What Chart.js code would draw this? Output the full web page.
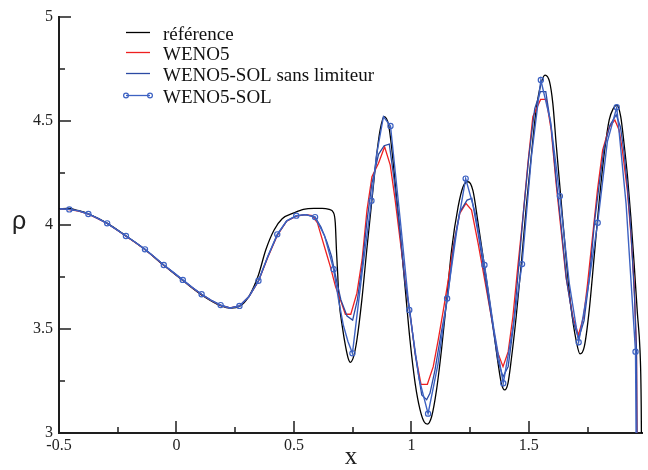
<!DOCTYPE html>
<html><head><meta charset="utf-8">
<script src="https://cdn.jsdelivr.net/npm/chart.js@4.4.1/dist/chart.umd.min.js"></script>
<style>html,body{margin:0;padding:0;background:#fff}#wrap{width:648px;height:470px;position:relative}</style>
</head><body><div id="wrap"><canvas id="c" width="648" height="470"></canvas></div>
<script>
// ---- data ----
const seriesLabels = ['référence', 'WENO5', 'WENO5-SOL sans limiteur', 'WENO5-SOL'];
const xTickLabels = ['-0.5', '0', '0.5', '1', '1.5'];
const yTickLabels = ['3', '3.5', '4', '4.5', '5'];
const xMajorTicks = [-0.5, 0, 0.5, 1, 1.5];
const xMinorTicks = [-0.25, 0.25, 0.75, 1.25, 1.75];
const yMajorTicks = [3, 3.5, 4, 4.5, 5];
const yMinorTicks = [3.25, 3.75, 4.25, 4.75];

const refX = [-0.500,-0.460,-0.420,-0.373,-0.294,-0.213,-0.134,-0.054,0.027,0.107,0.188,0.232,0.268,0.310,0.349,0.380,0.415,0.450,0.500,0.540,0.585,0.620,0.650,0.668,0.676,0.681,0.686,0.692,0.706,0.720,0.731,0.740,0.754,0.768,0.789,0.810,0.832,0.853,0.867,0.883,0.903,0.917,0.931,0.952,0.973,0.994,1.016,1.037,1.054,1.068,1.086,1.107,1.128,1.150,1.171,1.199,1.220,1.241,1.262,1.284,1.305,1.326,1.348,1.369,1.383,1.397,1.411,1.425,1.446,1.468,1.489,1.510,1.531,1.552,1.569,1.588,1.602,1.616,1.637,1.658,1.679,1.701,1.718,1.736,1.757,1.778,1.800,1.821,1.842,1.860,1.874,1.891,1.905,1.920,1.934,1.948,1.962,1.973,1.977,1.979,1.982];
const refY = [4.078,4.080,4.070,4.053,4.008,3.946,3.882,3.806,3.733,3.664,3.612,3.600,3.608,3.660,3.760,3.880,3.975,4.030,4.058,4.075,4.080,4.080,4.075,4.060,4.010,3.880,3.770,3.640,3.511,3.415,3.359,3.340,3.367,3.447,3.639,3.880,4.120,4.345,4.457,4.521,4.481,4.361,4.200,3.960,3.704,3.447,3.239,3.111,3.054,3.043,3.078,3.207,3.399,3.639,3.880,4.088,4.184,4.208,4.165,4.008,3.848,3.687,3.511,3.335,3.239,3.207,3.239,3.351,3.559,3.816,4.088,4.329,4.553,4.681,4.721,4.689,4.585,4.393,4.120,3.848,3.607,3.447,3.380,3.415,3.591,3.848,4.120,4.345,4.505,4.561,4.577,4.521,4.393,4.233,4.040,3.816,3.575,3.399,3.239,3.014,2.0];

const wenoX = [-0.496,-0.456,-0.416,-0.375,-0.335,-0.295,-0.255,-0.215,-0.174,-0.134,-0.094,-0.054,-0.013,0.027,0.067,0.107,0.148,0.188,0.228,0.268,0.308,0.349,0.389,0.429,0.469,0.510,0.550,0.578,0.600,0.613,0.634,0.655,0.677,0.698,0.719,0.742,0.768,0.790,0.811,0.832,0.860,0.886,0.910,0.931,0.952,0.973,0.994,1.016,1.041,1.068,1.093,1.114,1.136,1.157,1.178,1.206,1.232,1.256,1.284,1.312,1.340,1.366,1.390,1.412,1.432,1.453,1.475,1.496,1.517,1.550,1.574,1.595,1.616,1.637,1.658,1.687,1.711,1.733,1.750,1.771,1.792,1.814,1.842,1.866,1.884,1.898,1.919,1.934,1.948,1.958,1.990];
const wenoY = [4.078,4.074,4.067,4.052,4.031,4.007,3.977,3.946,3.915,3.882,3.845,3.807,3.770,3.734,3.699,3.666,3.637,3.614,3.601,3.611,3.655,3.730,3.845,3.950,4.018,4.043,4.050,4.045,4.010,3.960,3.880,3.800,3.704,3.640,3.571,3.571,3.672,3.832,4.072,4.232,4.297,4.376,4.288,4.120,3.928,3.736,3.575,3.383,3.234,3.234,3.319,3.447,3.591,3.736,3.896,4.056,4.104,4.072,3.912,3.736,3.559,3.391,3.319,3.391,3.559,3.800,4.040,4.297,4.521,4.604,4.604,4.457,4.200,3.976,3.751,3.559,3.471,3.559,3.719,3.944,4.168,4.360,4.470,4.505,4.457,4.360,4.168,3.960,3.720,3.400,-2.0];

const slX = [-0.496,-0.456,-0.416,-0.375,-0.335,-0.295,-0.255,-0.215,-0.174,-0.134,-0.094,-0.054,-0.013,0.027,0.067,0.107,0.148,0.188,0.228,0.268,0.308,0.349,0.389,0.429,0.469,0.510,0.550,0.590,0.615,0.640,0.660,0.680,0.700,0.726,0.750,0.770,0.790,0.811,0.832,0.860,0.884,0.906,0.925,0.952,0.973,0.993,1.016,1.044,1.065,1.079,1.100,1.125,1.154,1.180,1.205,1.237,1.257,1.284,1.312,1.340,1.368,1.390,1.412,1.435,1.456,1.476,1.500,1.525,1.549,1.572,1.595,1.616,1.637,1.660,1.690,1.712,1.735,1.757,1.780,1.800,1.820,1.845,1.872,1.890,1.905,1.920,1.935,1.950,1.958,1.990];
const slY = [4.078,4.075,4.068,4.053,4.032,4.008,3.978,3.947,3.916,3.883,3.846,3.808,3.771,3.735,3.700,3.667,3.638,3.615,3.601,3.611,3.655,3.731,3.848,3.952,4.019,4.044,4.050,4.038,3.990,3.920,3.850,3.740,3.640,3.562,3.543,3.640,3.800,4.020,4.200,4.340,4.381,4.389,4.230,3.960,3.720,3.591,3.380,3.183,3.160,3.191,3.300,3.470,3.647,3.900,4.060,4.120,4.128,3.960,3.760,3.560,3.350,3.270,3.320,3.520,3.790,4.050,4.330,4.560,4.641,4.641,4.470,4.220,4.000,3.740,3.530,3.455,3.540,3.740,4.020,4.200,4.370,4.480,4.530,4.470,4.350,4.180,3.960,3.650,3.400,-2.0];

// WENO5-SOL: marked points and the unmarked points between them
const solX = [-0.456,-0.375,-0.295,-0.215,-0.134,-0.054,0.027,0.107,0.188,0.268,0.349,0.429,0.510,0.590,0.669,0.749,0.830,0.911,0.991,1.071,1.152,1.231,1.311,1.391,1.471,1.551,1.632,1.712,1.793,1.874,1.954];
const solY = [4.075,4.053,4.008,3.947,3.883,3.808,3.736,3.667,3.615,3.611,3.732,3.955,4.045,4.038,3.787,3.383,4.117,4.476,3.591,3.093,3.647,4.223,3.808,3.239,3.812,4.697,4.139,3.436,4.011,4.566,3.391];
const solMidX = [-0.496,-0.416,-0.335,-0.255,-0.174,-0.094,-0.013,0.067,0.148,0.228,0.308,0.389,0.469,0.550,0.630,0.690,0.710,0.730,0.790,0.852,0.881,0.952,1.033,1.113,1.194,1.271,1.351,1.431,1.511,1.592,1.672,1.752,1.834,1.914,1.990];
const solMidY = [4.078,4.068,4.032,3.978,3.916,3.846,3.772,3.700,3.638,3.600,3.655,3.850,4.020,4.050,3.950,3.640,3.520,3.440,3.770,4.340,4.521,4.030,3.260,3.330,3.980,4.060,3.500,3.500,4.330,4.500,3.720,3.700,4.400,4.100,-2.5];

// ---- build ----
const pts = (xs, ys) => xs.map((x, i) => ({x, y: ys[i]}));
const solLine = pts(solX, solY).concat(pts(solMidX, solMidY)).sort((a, b) => a.x - b.x);

const C_REF = '#000000', C_WENO = '#ee2020', C_SL = '#2b4aa3', C_SOL = '#3d62c2';
const AXIS = '#1e1e1e';
const SERIF = '"Liberation Serif", "Times New Roman", serif';

const dsRef = {label: seriesLabels[0], data: pts(refX, refY), borderColor: C_REF, borderWidth: 1.3, pointRadius: 0, cubicInterpolationMode: 'monotone', order: 4};
const dsWeno = {label: seriesLabels[1], data: pts(wenoX, wenoY), borderColor: C_WENO, borderWidth: 1.3, pointRadius: 0, tension: 0, order: 3};
const dsSL = {label: seriesLabels[2], data: pts(slX, slY), borderColor: C_SL, borderWidth: 1.3, pointRadius: 0, tension: 0, order: 2};
const dsSol = {label: seriesLabels[3], data: solLine, borderColor: C_SOL, borderWidth: 1.4, pointRadius: 0, tension: 0, order: 1};
const dsSolMarks = {label: seriesLabels[3] + ' (points)', data: pts(solX, solY), showLine: false, borderColor: C_SOL, backgroundColor: 'rgba(255,255,255,0)', pointRadius: 2.6, pointBorderWidth: 1.2, pointStyle: 'circle', order: 0};

const isMajor = v => Math.abs(v * 2 - Math.round(v * 2)) < 1e-6;

const decor = {
  id: 'decor',
  afterDraw(chart) {
    const ctx = chart.ctx, a = chart.chartArea, x = chart.scales.x, y = chart.scales.y;
    ctx.save();
    // inward tick marks
    ctx.fillStyle = AXIS;
    const xt = (v, len) => { const px = Math.round(x.getPixelForValue(v)); ctx.fillRect(px - 0.75, a.bottom - len, 1.5, len); };
    const yt = (v, len) => { const py = Math.round(y.getPixelForValue(v)); ctx.fillRect(a.left, py - 0.75, len, 1.5); };
    xMajorTicks.forEach(v => xt(v, 12));
    xMinorTicks.forEach(v => xt(v, 6));
    yMajorTicks.forEach(v => yt(v, 12));
    yMinorTicks.forEach(v => yt(v, 6));
    // y axis title (upright rho)
    ctx.fillStyle = '#222';
    ctx.font = '25px "Liberation Sans", Arial, sans-serif';
    ctx.textAlign = 'center'; ctx.textBaseline = 'alphabetic';
    ctx.fillText('ρ', 19, y.getPixelForValue(4) + 4);
    // legend inside the plot
    const items = [dsRef, dsWeno, dsSL, dsSol];
    const rows = [32, 52, 73, 95];
    const x0 = a.left + 67, x1 = a.left + 91, tx = a.left + 104;
    ctx.font = '19px ' + SERIF;
    ctx.textAlign = 'left';
    items.forEach((ds, i) => {
      const yy = rows[i];
      ctx.strokeStyle = ds.borderColor; ctx.lineWidth = 1.3;
      ctx.beginPath(); ctx.moveTo(x0, yy + 0.5); ctx.lineTo(x1, yy + 0.5); ctx.stroke();
      if (ds === dsSol) {
        ctx.lineWidth = 1.2;
        [x0, x1].forEach(cx => { ctx.beginPath(); ctx.arc(cx, yy + 0.5, 2.4, 0, Math.PI * 2); ctx.stroke(); });
      }
      ctx.fillStyle = '#111';
      ctx.fillText(ds.label, tx, yy + 7.5);
    });
    ctx.restore();
  }
};

new Chart(document.getElementById('c'), {
  type: 'line',
  data: {datasets: [dsSolMarks, dsSol, dsSL, dsWeno, dsRef]},
  options: {
    responsive: false, animation: false, parsing: true,
    layout: {padding: {left: 0, right: 1, top: 17, bottom: 0}},
    plugins: {legend: {display: false}, tooltip: {enabled: false}},
    scales: {
      x: {
        type: 'linear', min: -0.5, max: 1.985,
        afterFit: s => { s.height = 37; },
        grid: {display: true, drawOnChartArea: false, drawTicks: false},
        border: {display: true, color: AXIS, width: 2},
        ticks: {
          stepSize: 0.25, includeBounds: false, autoSkip: false, maxRotation: 0, padding: 3,
          color: '#222', font: {family: SERIF, size: 16},
          callback: v => isMajor(v) ? xTickLabels[Math.round((v + 0.5) * 2)] : ''
        },
        title: {display: true, text: 'x', color: '#222', font: {family: SERIF, size: 25, lineHeight: 1}, padding: {top: 0, bottom: 0}}
      },
      y: {
        type: 'linear', min: 3, max: 5,
        afterFit: s => { s.width = 59; },
        grid: {display: true, drawOnChartArea: false, drawTicks: false},
        border: {display: true, color: AXIS, width: 2},
        ticks: {
          stepSize: 0.25, autoSkip: false, padding: 6,
          color: '#222', font: {family: SERIF, size: 16},
          callback: v => isMajor(v) ? yTickLabels[Math.round((v - 3) * 2)] : ''
        }
      }
    }
  },
  plugins: [decor]
});
</script>
</body></html>
